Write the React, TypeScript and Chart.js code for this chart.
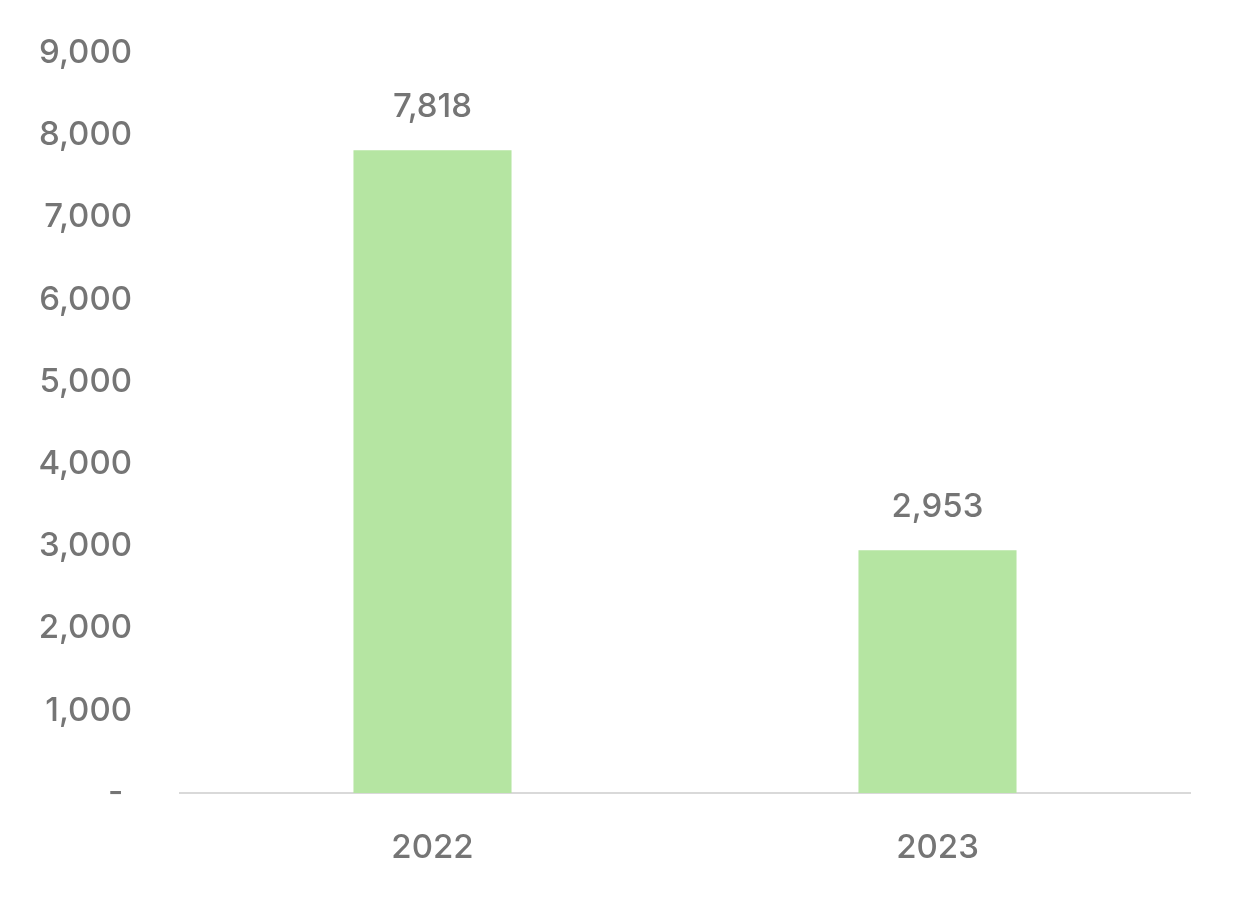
import React, { useEffect, useRef } from "react";
import { Chart, registerables } from "chart.js";

Chart.register(...registerables);

const categories = ["2022", "2023"];
const values = [7818, 2953];
const yTicks = [0, 1000, 2000, 3000, 4000, 5000, 6000, 7000, 8000, 9000];

const TEXT = "#757575";
const FONT = "Inter, 'Liberation Sans', Arial, sans-serif";
const SIZE = 33;
const WEIGHT = 500;

const fmt = (v: number) => (v === 0 ? "-\u00a0" : v.toLocaleString("en-US"));

const labelPlugin = {
  id: "barLabels",
  afterDatasetsDraw(chart: any) {
    const ctx = chart.ctx;
    const meta = chart.getDatasetMeta(0);
    ctx.save();
    ctx.fillStyle = TEXT;
    ctx.font = `${WEIGHT} ${SIZE}px ${FONT}`;
    ctx.textAlign = "center";
    ctx.textBaseline = "alphabetic";
    meta.data.forEach((bar: any, i: number) => {
      ctx.fillText(fmt(values[i]), bar.x, bar.y - 33);
    });
    ctx.restore();
  },
};

export default function App() {
  const ref = useRef<HTMLCanvasElement>(null);
  useEffect(() => {
    const chart = new Chart(ref.current!, {
      type: "bar",
      data: {
        labels: categories,
        datasets: [
          {
            data: values,
            backgroundColor: "#b5e5a2",
            categoryPercentage: 1,
            barPercentage: 0.313,
          },
        ],
      },
      options: {
        animation: false,
        responsive: false,
        maintainAspectRatio: false,
        layout: { padding: { top: 53, right: 56, bottom: 0, left: 0 } },
        plugins: { legend: { display: false }, tooltip: { enabled: false } },
        scales: {
          x: {
            afterFit: (s: any) => {
              s.height = 114;
              s.paddingLeft = 0;
              s.paddingRight = 0;
            },
            grid: { display: false },
            border: { display: true, color: "#d9d9d9", width: 2 },
            ticks: { color: TEXT, font: { size: SIZE, family: FONT, weight: WEIGHT }, padding: 27 },
          },
          y: {
            min: 0,
            max: 9000,
            afterBuildTicks: (s: any) => {
              s.ticks = yTicks.map((v) => ({ value: v }));
            },
            afterFit: (s: any) => {
              s.width = 180;
              s.paddingTop = 0;
              s.paddingBottom = 0;
            },
            grid: { display: false },
            border: { display: false },
            ticks: {
              color: TEXT,
              font: { size: SIZE, family: FONT, weight: WEIGHT },
              padding: 40,
              callback: (v: any) => fmt(Number(v)),
            },
          },
        },
      },
      plugins: [labelPlugin],
    });
    return () => chart.destroy();
  }, []);
  return (
    <div style={{ position: "fixed", left: 0, top: 0, width: 1246, height: 907, background: "#fff" }}>
      <canvas ref={ref} width={1246} height={907} />
    </div>
  );
}
